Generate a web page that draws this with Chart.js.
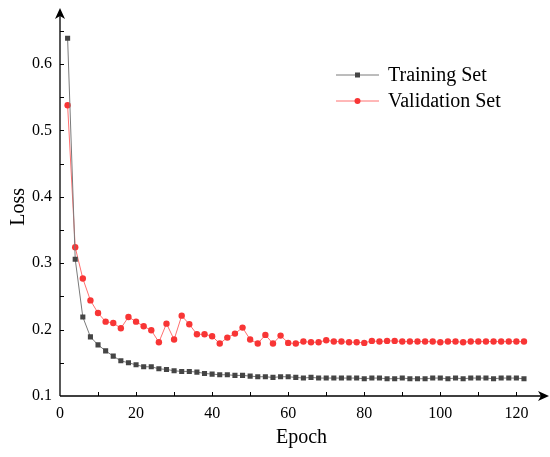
<!DOCTYPE html>
<html lang="en">

<head>
    <meta charset="UTF-8">
    <title>Loss</title>
    <style>
        body {
            margin: 0;
            background: white;
        }

        .chart-container {
            width: 550px;
            height: 457px;
        }
    </style>
</head>

<body>
    <div class="chart-container">
        <canvas id="lossChart"></canvas>
    </div>

    <script src="https://cdn.jsdelivr.net/npm/chart.js"></script>
    <script>
        // epochs (every 2nd epoch is plotted)
        const epochs = [2, 4, 6, 8, 10, 12, 14, 16, 18, 20, 22, 24, 26, 28, 30, 32, 34, 36, 38, 40,
            42, 44, 46, 48, 50, 52, 54, 56, 58, 60, 62, 64, 66, 68, 70, 72, 74, 76, 78, 80,
            82, 84, 86, 88, 90, 92, 94, 96, 98, 100, 102, 104, 106, 108, 110, 112, 114, 116, 118, 120, 122];

        const trainingLoss = [0.639, 0.306, 0.219, 0.189, 0.177, 0.168, 0.160, 0.153, 0.150, 0.147,
            0.144, 0.144, 0.141, 0.140, 0.138, 0.137, 0.137, 0.136, 0.134, 0.133,
            0.132, 0.132, 0.131, 0.131, 0.130, 0.129, 0.129, 0.128, 0.129, 0.129,
            0.128, 0.127, 0.128, 0.127, 0.127, 0.127, 0.127, 0.127, 0.127, 0.126,
            0.127, 0.127, 0.126, 0.126, 0.127, 0.126, 0.126, 0.126, 0.127, 0.127,
            0.126, 0.127, 0.126, 0.127, 0.127, 0.127, 0.126, 0.127, 0.127, 0.127, 0.126];

        const validationLoss = [0.538, 0.324, 0.277, 0.244, 0.225, 0.212, 0.210, 0.202, 0.219, 0.212,
            0.205, 0.199, 0.181, 0.209, 0.185, 0.221, 0.208, 0.193, 0.193, 0.190,
            0.179, 0.188, 0.194, 0.203, 0.185, 0.179, 0.192, 0.179, 0.191, 0.180,
            0.179, 0.182, 0.181, 0.181, 0.184, 0.182, 0.182, 0.181, 0.181, 0.180,
            0.183, 0.182, 0.183, 0.183, 0.182, 0.182, 0.182, 0.182, 0.182, 0.181,
            0.182, 0.182, 0.181, 0.182, 0.182, 0.182, 0.182, 0.182, 0.182, 0.182, 0.182];

        const xTicks = [0, 20, 40, 60, 80, 100, 120];
        const xMinorTicks = [10, 30, 50, 70, 90, 110];
        const yTicks = [0.1, 0.2, 0.3, 0.4, 0.5, 0.6];
        const yMinorTicks = [0.15, 0.25, 0.35, 0.45, 0.55, 0.65];

        const FONT = "'Liberation Serif', 'Times New Roman', serif";

        // axis lines with arrows and inward ticks, plus the legend
        const axesPlugin = {
            id: 'axesPlugin',
            afterDraw(chart) {
                const { ctx, chartArea: area, scales: { x, y } } = chart;
                ctx.save();
                ctx.strokeStyle = 'black';
                ctx.fillStyle = 'black';
                ctx.lineWidth = 1.3;

                // axis lines
                ctx.beginPath();
                ctx.moveTo(area.left, area.bottom);
                ctx.lineTo(area.left, 14);
                ctx.moveTo(area.left, area.bottom);
                ctx.lineTo(542, area.bottom);
                ctx.stroke();

                // arrow heads
                ctx.beginPath();
                ctx.moveTo(area.left, 8);
                ctx.lineTo(area.left - 5, 19);
                ctx.lineTo(area.left, 16);
                ctx.lineTo(area.left + 5, 19);
                ctx.closePath();
                ctx.fill();
                ctx.beginPath();
                ctx.moveTo(549, area.bottom);
                ctx.lineTo(538, area.bottom - 5);
                ctx.lineTo(541, area.bottom);
                ctx.lineTo(538, area.bottom + 5);
                ctx.closePath();
                ctx.fill();

                // ticks pointing into the plot
                ctx.lineWidth = 1;
                ctx.beginPath();
                xTicks.concat(xMinorTicks).forEach(v => {
                    const px = Math.round(x.getPixelForValue(v)) + 0.5;
                    if (v === 0) return;
                    ctx.moveTo(px, area.bottom);
                    ctx.lineTo(px, area.bottom - 4);
                });
                yTicks.concat(yMinorTicks).forEach(v => {
                    const py = Math.round(y.getPixelForValue(v)) + 0.5;
                    if (v === 0.1) return;
                    ctx.moveTo(area.left, py);
                    ctx.lineTo(area.left + 4, py);
                });
                ctx.stroke();

                // legend
                const lx = 336, lw = 43, tx = 388;
                chart.data.datasets.forEach((ds, i) => {
                    const ly = 75 + i * 26;
                    ctx.strokeStyle = ds.borderColor;
                    ctx.lineWidth = 1;
                    ctx.beginPath();
                    ctx.moveTo(lx, ly);
                    ctx.lineTo(lx + lw, ly);
                    ctx.stroke();
                    ctx.fillStyle = ds.pointBackgroundColor;
                    ctx.beginPath();
                    if (ds.pointStyle === 'rect') {
                        ctx.rect(lx + lw / 2 - 2.5, ly - 2.5, 5, 5);
                    } else {
                        ctx.arc(lx + lw / 2, ly, 3, 0, Math.PI * 2);
                    }
                    ctx.fill();
                    ctx.fillStyle = 'black';
                    ctx.font = '20px ' + FONT;
                    ctx.textBaseline = 'middle';
                    ctx.fillText(ds.label, tx, ly + 1);
                });
                ctx.restore();
            }
        };

        const ctx = document.getElementById('lossChart').getContext('2d');

        new Chart(ctx, {
            type: 'line',
            data: {
                datasets: [{
                    label: 'Training Set',
                    data: epochs.map((e, i) => ({ x: e, y: trainingLoss[i] })),
                    borderColor: '#7a7a7a',
                    borderWidth: 1,
                    pointStyle: 'rect',
                    pointRadius: 3.6,
                    pointBackgroundColor: '#454545',
                    pointBorderWidth: 0,
                    tension: 0
                }, {
                    label: 'Validation Set',
                    data: epochs.map((e, i) => ({ x: e, y: validationLoss[i] })),
                    borderColor: '#ff7070',
                    borderWidth: 1,
                    pointStyle: 'circle',
                    pointRadius: 3.2,
                    pointBackgroundColor: '#f83535',
                    pointBorderWidth: 0,
                    tension: 0
                }]
            },
            options: {
                responsive: true,
                maintainAspectRatio: false,
                animation: false,
                layout: {
                    padding: { top: 16, right: 7, left: 0, bottom: 0 }
                },
                plugins: {
                    legend: { display: false },
                    tooltip: { enabled: false }
                },
                scales: {
                    x: {
                        type: 'linear',
                        min: 0,
                        max: 127,
                        afterFit: (scale) => { scale.height = 61; },
                        afterBuildTicks: (scale) => { scale.ticks = xTicks.map(v => ({ value: v })); },
                        border: { display: false },
                        grid: { display: false, drawTicks: false },
                        ticks: {
                            color: 'black',
                            padding: 8,
                            maxRotation: 0,
                            font: { family: FONT, size: 16 }
                        },
                        title: {
                            display: true,
                            text: 'Epoch',
                            color: 'black',
                            padding: { top: 0, bottom: 7 },
                            font: { family: FONT, size: 20 }
                        }
                    },
                    y: {
                        min: 0.1,
                        max: 0.67,
                        afterFit: (scale) => { scale.width = 60; },
                        afterBuildTicks: (scale) => { scale.ticks = yTicks.map(v => ({ value: v })); },
                        border: { display: false },
                        grid: { display: false, drawTicks: false },
                        ticks: {
                            color: 'black',
                            padding: 8,
                            font: { family: FONT, size: 16 },
                            callback: (value) => value.toFixed(1)
                        },
                        title: {
                            display: true,
                            text: 'Loss',
                            color: 'black',
                            padding: { top: 7, bottom: 0 },
                            font: { family: FONT, size: 20 }
                        }
                    }
                }
            },
            plugins: [axesPlugin]
        });
    </script>
</body>

</html>
